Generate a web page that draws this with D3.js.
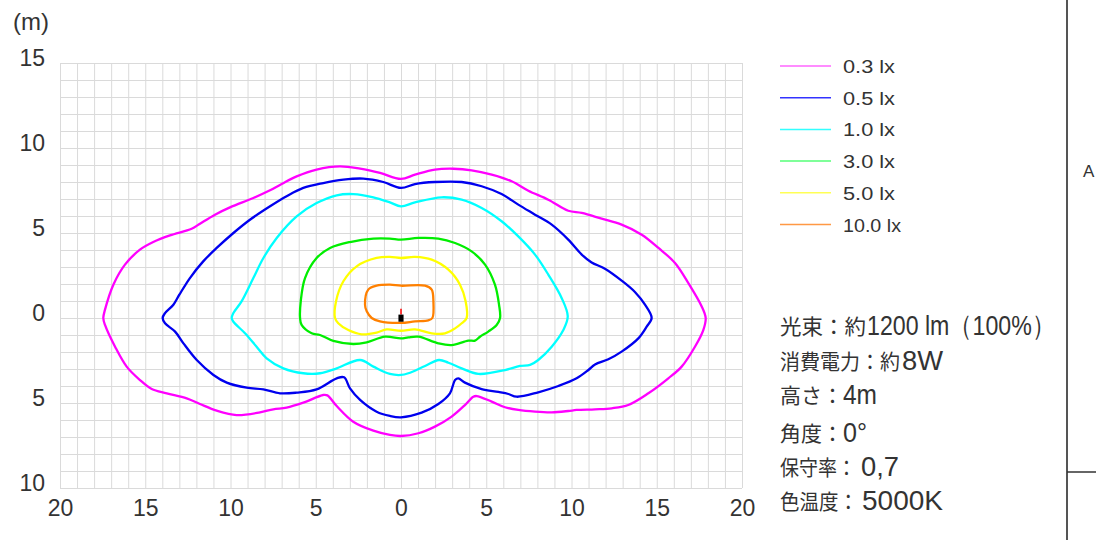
<!DOCTYPE html>
<html>
<head>
<meta charset="utf-8">
<script src="https://cdn.jsdelivr.net/npm/d3@7"></script>
<style>
  body { margin: 0; background: #fff; }
  text { fill: #333; }
</style>
</head>
<body>
<div id="chart"></div>
<script>
// contour points, [x (m), y (m)], traced clockwise from the left tip
const lx03 = [[-17.46,0],[-17.36,0.49],[-16.87,1.96],[-16.19,3.14],[-15.31,4.02],[-14.53,4.47],[-13.55,4.86],[-12.28,5.25],[-11.79,5.55],[-10.91,6.08],[-10.03,6.51],[-8.66,7.06],[-7.68,7.51],[-7.0,7.88],[-6.12,8.33],[-4.95,8.73],[-3.58,8.92],[-2.40,8.78],[-1.23,8.53],[0,8.18],
  [0.82,8.43],[1.99,8.73],[3.07,8.78],[4.14,8.69],[5.32,8.43],[6.49,8.04],[7.47,7.49],[8.64,6.96],[9.81,6.31],[10.6,6.18],[11.77,5.84],[12.94,5.49],[14.12,4.9],[15.1,4.12],[16.07,3.24],[16.85,2.06],[17.63,0.69],[17.87,0],
  [17.73,-0.71],[17.24,-1.69],[16.46,-2.86],[15.68,-3.55],[14.51,-4.43],[13.33,-5.12],[12.36,-5.31],[11.38,-5.37],[10.3,-5.41],[9.81,-5.47],[8.84,-5.55],[7.86,-5.51],[6.88,-5.41],[6.1,-5.25],[5.32,-4.92],[4.44,-4.59],[4.24,-4.63],[3.75,-5.12],[2.97,-5.8],[1.99,-6.39],[1.02,-6.78],[0,-6.94],
  [-0.65,-6.88],[-1.62,-6.63],[-2.8,-6.1],[-3.77,-5.18],[-4.32,-4.55],[-4.56,-4.53],[-5.73,-4.98],[-6.71,-5.27],[-7.49,-5.37],[-8.27,-5.55],[-9.64,-5.71],[-10.81,-5.45],[-11.79,-5.06],[-12.57,-4.73],[-13.74,-4.43],[-14.62,-4.18],[-15.31,-3.65],[-16.09,-2.86],[-16.77,-1.69],[-17.36,-0.41]];

const lx05 = [[-13.98,0],[-13.84,0.29],[-13.35,0.78],[-13.0,1.37],[-12.38,2.35],[-11.6,3.33],[-10.81,4.12],[-9.83,5.0],[-8.86,5.78],[-7.68,6.57],[-6.71,7.16],[-5.73,7.65],[-4.56,7.94],[-3.38,8.14],[-2.21,8.2],[-1.04,8.0],[0,7.65],
  [0.82,7.88],[1.99,8.0],[3.56,8.0],[4.73,7.75],[5.9,7.29],[6.88,6.67],[7.86,6.08],[8.84,5.49],[9.81,4.61],[10.6,3.73],[11.18,3.27],[11.96,2.9],[12.94,2.2],[13.72,1.53],[14.31,0.78],[14.7,0],
  [14.41,-0.51],[13.92,-1.2],[12.94,-1.98],[12.16,-2.43],[11.38,-2.73],[10.99,-3.06],[10.3,-3.55],[9.23,-4.0],[8.05,-4.37],[6.78,-4.63],[6.3,-4.47],[5.71,-4.35],[4.73,-4.18],[3.75,-3.8],[3.36,-3.55],[3.17,-3.65],[2.87,-4.43],[2.19,-5.06],[1.21,-5.57],[0,-5.84],
  [-0.65,-5.76],[-1.43,-5.51],[-2.4,-4.82],[-2.99,-4.14],[-3.34,-3.49],[-3.77,-3.55],[-4.95,-4.2],[-6.12,-4.39],[-7.1,-4.43],[-8.07,-4.2],[-9.05,-4.1],[-10.22,-3.8],[-11.0,-3.35],[-11.98,-2.47],[-12.76,-1.49],[-13.25,-0.8],[-13.84,-0.31]];

const lx10 = [[-9.93,0],[-9.83,0.29],[-9.35,0.98],[-8.66,2.35],[-8.07,3.53],[-7.29,4.71],[-6.12,5.98],[-4.95,6.76],[-3.77,7.22],[-2.8,7.29],[-1.62,7.1],[-0.65,6.8],[0,6.57],
  [0.82,6.8],[2.39,7.1],[3.56,6.96],[4.73,6.47],[5.9,5.69],[6.88,4.8],[7.86,3.73],[8.64,2.55],[9.42,1.18],[9.78,0.1],
  [9.52,-0.71],[8.84,-1.69],[8.05,-2.47],[7.57,-2.76],[6.98,-2.82],[6.1,-3.06],[4.54,-3.29],[3.56,-2.96],[2.78,-2.63],[2.23,-2.47],[1.41,-2.82],[0.43,-3.25],[0,-3.35],
  [-0.65,-3.29],[-1.62,-2.86],[-2.4,-2.47],[-3.77,-2.96],[-4.75,-3.25],[-5.73,-3.25],[-6.9,-2.96],[-7.88,-2.37],[-8.47,-1.69],[-9.15,-0.9],[-9.83,-0.22]];

const lx30 = [[-5.92,0],[-5.88,0.98],[-5.63,2.35],[-4.95,3.53],[-4.16,4.12],[-2.99,4.47],[-1.62,4.67],[-0.65,4.67],[0,4.61],
  [1.02,4.71],[2.19,4.67],[3.17,4.41],[4.14,3.92],[4.93,3.14],[5.51,1.96],[5.75,0.78],[5.81,0],
  [5.61,-0.41],[5.12,-0.8],[4.63,-1.1],[4.34,-1.33],[3.95,-1.33],[2.97,-1.59],[2.19,-1.49],[1.02,-1.1],[0.43,-1.14],[0,-1.2],
  [-0.94,-1.1],[-2.01,-1.43],[-2.8,-1.53],[-3.97,-1.35],[-4.75,-1.0],[-5.24,-0.9],[-5.83,-0.41]];

const lx50 = [[-3.87,0],[-3.81,0.98],[-3.38,2.16],[-2.6,3.04],[-1.43,3.53],[-0.65,3.59],[0,3.53],
  [0.82,3.59],[1.8,3.43],[2.78,2.84],[3.46,1.96],[3.79,0.98],[3.85,0],
  [3.56,-0.31],[3.17,-0.61],[2.58,-0.9],[1.8,-0.9],[0.82,-0.67],[0,-0.75],
  [-0.84,-0.67],[-1.43,-0.86],[-2.31,-0.96],[-3.09,-0.71],[-3.68,-0.31]];

const lx100 = [[-2.01,0.39],[-2.11,0.78],[-1.92,1.67],[-1.43,1.9],[-0.65,1.96],[0,1.9],[1.41,1.9],[1.8,1.67],[1.9,0.98],
  [1.84,0],[1.6,-0.14],[0.82,-0.2],[0,-0.29],[-1.23,-0.2],[-1.72,0]];

const levels = ["0.3 lx", "0.5 lx", "1.0 lx", "3.0 lx", "5.0 lx", "10.0 lx"];
const contours = [lx03, lx05, lx10, lx30, lx50, lx100];
const colors = ["#ff00ff", "#0000ee", "#00ffff", "#00ee00", "#ffff00", "#ff8000"];
const legendColors = ["#ff66ff", "#3333ff", "#33ffff", "#55ff77", "#ffff55", "#ff9944"];

const xTicks = [-20, -15, -10, -5, 0, 5, 10, 15, 20];
const yTicks = [15, 10, 5, 0, -5, -10];

const infoLabels = ["光束：約", "消費電力：約", "高さ：", "角度：", "保守率：", "色温度："];
const infoValues = ["1200 lm（100%）", "8W", "4m", "0°", "0,7", "5000K"];

// layout
const W = 1096, H = 540;
const margin = {top: 63, left: 60},
      width = 682,
      height = 425;

const svg = d3.select("#chart")
    .append("svg")
    .attr("width", W)
    .attr("height", H);

const g = svg.append("g")
    .attr("transform", `translate(${margin.left},${margin.top})`);

const x = d3.scaleLinear().domain([-20, 20]).range([0, width]);
const y = d3.scaleLinear().domain([-10, 15]).range([height, 0]);

// 1 m grid
g.append("g")
    .attr("class", "grid")
    .attr("transform", `translate(0,${height})`)
    .call(d3.axisBottom(x).tickValues(d3.range(-20, 21)).tickSize(-height).tickFormat(""))
    .call(a => a.select(".domain").remove());

g.append("g")
    .attr("class", "grid")
    .call(d3.axisLeft(y).tickValues(d3.range(-10, 16)).tickSize(-width).tickFormat(""))
    .call(a => a.select(".domain").remove());

g.selectAll(".grid line").attr("stroke", "#dadada").attr("stroke-width", 1);

// tick labels (absolute distances)
g.append("g")
    .attr("transform", `translate(0,${height})`)
    .call(d3.axisBottom(x).tickValues(xTicks).tickFormat(d => Math.abs(d)).tickSize(0).tickPadding(12))
    .call(a => a.select(".domain").remove())
    .selectAll("text")
    .attr("font-family", "'Liberation Sans Narrow', 'Liberation Sans', sans-serif")
    .attr("font-size", 23)
    .attr("fill", "#333");

g.append("g")
    .call(d3.axisLeft(y).tickValues(yTicks).tickFormat(d => Math.abs(d)).tickSize(0).tickPadding(15))
    .call(a => a.select(".domain").remove())
    .selectAll("text")
    .attr("dy", "2px")
    .attr("font-family", "'Liberation Sans Narrow', 'Liberation Sans', sans-serif")
    .attr("font-size", 23)
    .attr("fill", "#333");

svg.append("text")
    .attr("x", 13)
    .attr("y", 30)
    .attr("font-family", "'Liberation Sans Narrow', 'Liberation Sans', sans-serif")
    .attr("font-size", 24)
    .text("(m)");

// isolux contours
const line = d3.line()
    .x(d => x(d[0]))
    .y(d => y(d[1]))
    .curve(d3.curveCatmullRomClosed.alpha(0.5));

g.selectAll(".contour")
    .data(contours)
    .enter().append("path")
    .attr("class", "contour")
    .attr("d", line)
    .attr("fill", "none")
    .attr("stroke", (d, i) => colors[i])
    .attr("stroke-width", 2.3)
    .attr("stroke-linejoin", "round");

// luminaire
g.append("line")
    .attr("x1", x(0)).attr("x2", x(0))
    .attr("y1", y(0.2)).attr("y2", y(0.55))
    .attr("stroke", "#ff0000")
    .attr("stroke-width", 1.5);

g.append("rect")
    .attr("x", x(-0.15))
    .attr("y", y(0.2))
    .attr("width", x(0.15) - x(-0.15))
    .attr("height", y(-0.22) - y(0.2))
    .attr("fill", "#000");

// legend
const legend = svg.append("g")
    .attr("transform", "translate(780,66)");

const item = legend.selectAll("g")
    .data(levels)
    .enter().append("g")
    .attr("transform", (d, i) => `translate(0,${i * 31.7})`);

item.append("line")
    .attr("x1", 0).attr("x2", 51)
    .attr("stroke", (d, i) => legendColors[i])
    .attr("stroke-width", 1.5);

item.append("text")
    .attr("x", 63)
    .attr("y", 7)
    .attr("font-family", "'Liberation Sans Narrow', 'Liberation Sans', sans-serif")
    .attr("font-size", 19)
    .attr("fill", "#444")
    .attr("textLength", d => d.length === 6 ? 52 : 58)
    .attr("lengthAdjust", "spacingAndGlyphs")
    .text(d => d);

// fixture data block: label part and value part side by side
const infoY = [334, 369, 403, 441, 475, 509];
const labelW = [86, 120, 63, 63, 76, 78];
const valueX = [867, 902, 843, 843, 861, 862];
const valueW = [188, 41, 34, 24, 38, 81];

const info = svg.append("g");
info.selectAll(".lab")
    .data(infoLabels)
    .enter().append("text")
    .attr("class", "lab")
    .attr("x", 780)
    .attr("y", (d, i) => infoY[i])
    .attr("font-family", "'Noto Sans CJK JP', sans-serif")
    .attr("font-size", 21)
    .attr("textLength", (d, i) => labelW[i])
    .attr("lengthAdjust", "spacingAndGlyphs")
    .text(d => d);

info.selectAll(".val")
    .data(infoValues)
    .enter().append("text")
    .attr("class", "val")
    .attr("x", (d, i) => valueX[i])
    .attr("y", (d, i) => infoY[i] + 1)
    .attr("font-family", "'Liberation Sans Narrow', 'Liberation Sans', sans-serif")
    .attr("font-size", 28)
    .attr("textLength", (d, i) => valueW[i])
    .attr("lengthAdjust", "spacingAndGlyphs")
    .text(d => d);

// title block frame
svg.append("line")
    .attr("x1", 1067).attr("x2", 1067)
    .attr("y1", 0).attr("y2", H)
    .attr("stroke", "#555")
    .attr("stroke-width", 2);

svg.append("line")
    .attr("x1", 1067).attr("x2", W)
    .attr("y1", 472).attr("y2", 472)
    .attr("stroke", "#333")
    .attr("stroke-width", 1.5);

svg.append("text")
    .attr("x", 1083)
    .attr("y", 177)
    .attr("font-family", "'Liberation Sans', sans-serif")
    .attr("font-size", 17)
    .text("A");
</script>
</body>
</html>
